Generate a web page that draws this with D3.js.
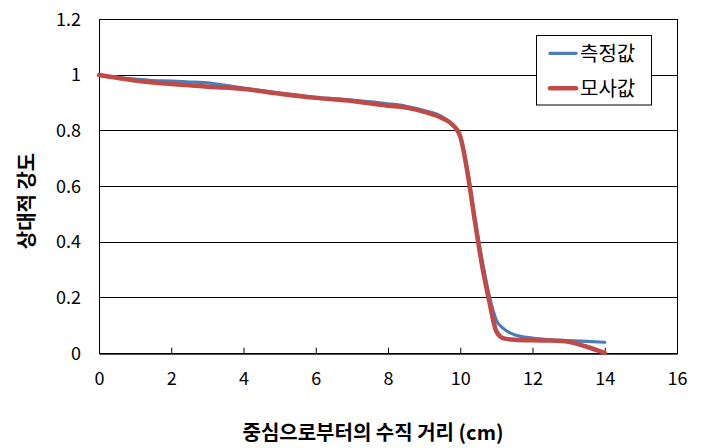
<!DOCTYPE html>
<html><head><meta charset="utf-8">
<script src="https://cdn.jsdelivr.net/npm/d3@7/dist/d3.min.js"></script>
<style>body{margin:0;background:#fff}svg{display:block}text{font-family:"Noto Sans CJK KR","Noto Sans",sans-serif}</style>
</head><body><svg id="c" width="703" height="448"></svg>
<script>
const xTicks = [0,2,4,6,8,10,12,14,16];
const yTicks = [0,0.2,0.4,0.6,0.8,1,1.2];
const yTickLabels = ["0","0.2","0.4","0.6","0.8","1","1.2"];
const seriesNames = ["측정값","모사값"];
const measuredX = [0,0.5,1,1.5,2,2.5,3,3.5,4,5,6,7,8,8.5,9,9.5,9.8,10,10.2,10.4,10.6,10.8,11,11.2,11.5,12,12.5,13,13.5,14];
const measuredY = [1.0,0.992,0.985,0.98,0.978,0.975,0.972,0.963,0.953,0.935,0.92,0.91,0.897,0.888,0.873,0.85,0.82,0.78,0.66,0.49,0.34,0.21,0.12,0.09,0.068,0.056,0.05,0.047,0.044,0.041];
const simulatedX = [0,0.5,1,1.5,2,2.5,3,3.5,4,5,6,7,8,8.5,9,9.5,9.8,10,10.2,10.4,10.6,10.8,11,11.2,11.5,12,12.5,13,13.5,14];
const simulatedY = [1.0,0.99,0.98,0.973,0.968,0.963,0.958,0.955,0.95,0.933,0.918,0.907,0.89,0.883,0.868,0.845,0.82,0.78,0.65,0.48,0.32,0.19,0.08,0.055,0.05,0.048,0.047,0.043,0.025,0.003];
const xTitle = "중심으로부터의 수직 거리 (cm)";
const yTitle = "상대적 강도";

const svg = d3.select("#c");
const L=99, R=677, T=19.3, B=353.7;
const x = d3.scaleLinear().domain([0,16]).range([L,R]);
const y = d3.scaleLinear().domain([0,1.2]).range([B,T]);

// gridlines
svg.append("g").selectAll("line").data(yTicks).join("line")
  .attr("x1",L).attr("x2",R).attr("y1",d=>y(d)).attr("y2",d=>y(d))
  .attr("stroke","#000").attr("stroke-width",1).attr("shape-rendering","crispEdges");
// box sides
svg.append("line").attr("x1",L).attr("x2",L).attr("y1",T).attr("y2",B).attr("stroke","#000").attr("shape-rendering","crispEdges");
svg.append("line").attr("x1",R).attr("x2",R).attr("y1",T).attr("y2",B).attr("stroke","#000").attr("shape-rendering","crispEdges");

// x axis
const xa = svg.append("g").attr("transform",`translate(0,${B})`)
  .call(d3.axisBottom(x).tickValues(xTicks).tickSizeInner(-6).tickSizeOuter(0).tickPadding(19).tickFormat(d3.format("d")));
xa.select(".domain").attr("stroke","#000");
xa.selectAll(".tick line").attr("stroke","#000");
xa.selectAll(".tick text").attr("font-size",18).attr("fill","#000").attr("font-family","'Noto Sans CJK KR',sans-serif");

// y axis labels
const ya = svg.append("g").attr("transform",`translate(${L},0)`)
  .call(d3.axisLeft(y).tickValues(yTicks).tickSize(0).tickPadding(18).tickFormat((d,i)=>yTickLabels[i]));
ya.select(".domain").remove();
ya.selectAll(".tick text").attr("font-size",18).attr("fill","#000").attr("font-family","'Noto Sans CJK KR',sans-serif");

const line = d3.line().x(d=>x(d[0])).y(d=>y(d[1])).curve(d3.curveMonotoneX);
const mData = measuredX.map((v,i)=>[v,measuredY[i]]);
const sData = simulatedX.map((v,i)=>[v,simulatedY[i]]);
svg.append("path").attr("d",line(mData)).attr("fill","none").attr("stroke","#4a7ebb").attr("stroke-width",3.2).attr("stroke-linecap","round");
svg.append("path").attr("d",line(sData)).attr("fill","none").attr("stroke","#be4b48").attr("stroke-width",4.5).attr("stroke-linecap","round");

// legend
const lg = svg.append("g");
lg.append("rect").attr("x",536.5).attr("y",35.5).attr("width",115).attr("height",69.5).attr("fill","#fff").attr("stroke","#000").attr("stroke-width",1);
const colors=["#4a7ebb","#be4b48"], widths=[3.2,4.5], ly=[53.3,88.3];
seriesNames.forEach((n,i)=>{
  lg.append("line").attr("x1",550).attr("x2",576).attr("y1",ly[i]).attr("y2",ly[i]).attr("stroke",colors[i]).attr("stroke-width",widths[i]).attr("stroke-linecap","round");
  lg.append("text").attr("x",580).attr("y",ly[i]).attr("dy","0.36em").attr("font-size",20).attr("fill","#000").text(n);
});

// axis titles
svg.append("text").attr("x",373).attr("y",433).attr("dy","0.36em").attr("text-anchor","middle").attr("font-size",20).attr("font-weight","bold").attr("fill","#000").text(xTitle);
svg.append("text").attr("transform","translate(27,201) rotate(-90)").attr("dy","0.36em").attr("text-anchor","middle").attr("font-size",20).attr("font-weight","bold").attr("fill","#000").text(yTitle);
</script></body></html>
